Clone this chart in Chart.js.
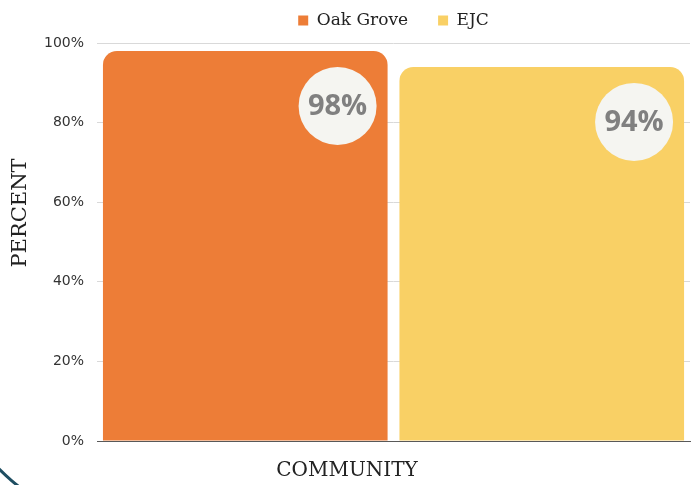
<!DOCTYPE html>
<html>
<head>
<meta charset="utf-8">
<script src="https://cdn.jsdelivr.net/npm/chart.js@4/dist/chart.umd.min.js"></script>
<style>
  html, body { margin: 0; padding: 0; background: #fff; }
  #wrap { width: 694px; height: 485px; }
</style>
</head>
<body>
<div id="wrap"><canvas id="communityChart"></canvas></div>
<script>
// Data
const categories = ["Community"];
const seriesNames = ["Oak Grove", "EJC"];
const oakGroveValues = [98];
const ejcValues = [94];
const yTicks = [0, 20, 40, 60, 80, 100];

const barColors = ["#ed7d37", "#f9d065"];

// Draws the round "98%" badges near the top right of each bar
const badgePlugin = {
  id: "badges",
  afterDatasetsDraw(chart) {
    const ctx = chart.ctx;
    chart.data.datasets.forEach((ds, i) => {
      const meta = chart.getDatasetMeta(i);
      meta.data.forEach((bar, j) => {
        const cx = bar.x + bar.width / 2 - 50;
        const cy = bar.y + 55;
        ctx.save();
        ctx.beginPath();
        ctx.arc(cx, cy, 39, 0, Math.PI * 2);
        ctx.fillStyle = "#f5f5f1";
        ctx.fill();
        ctx.fillStyle = "#808080";
        ctx.font = "bold 29px 'Open Sans'";
        ctx.textAlign = "center";
        ctx.textBaseline = "middle";
        ctx.fillText(ds.data[j] + "%", cx, cy + 1);
        ctx.restore();
      });
    });
  }
};

// Axis titles are centred on the page rather than the plot, so they are drawn here
const axisTitles = {
  id: "axisTitles",
  afterDraw(chart) {
    const ctx = chart.ctx;
    ctx.save();
    ctx.fillStyle = "#222";
    ctx.textAlign = "center";
    ctx.textBaseline = "middle";
    ctx.font = "20px 'DejaVu Serif'";
    ctx.fillText("COMMUNITY", 347, 471);
    ctx.translate(21, 213);
    ctx.rotate(-Math.PI / 2);
    ctx.font = "21px 'DejaVu Serif'";
    ctx.fillText("PERCENT", 0, 0);
    ctx.restore();
  }
};

// a little more room under the legend than Chart.js gives
const legendGap = {
  id: "legendGap",
  beforeLayout(chart) {
    const legend = chart.legend;
    if (legend && !legend._gapDone) {
      const fit = legend.fit;
      legend.fit = function () {
        fit.call(this);
        this.height += 4;
      };
      legend._gapDone = true;
    }
  }
};

// Decorative arc in the lower left corner
const cornerArc = {
  id: "cornerArc",
  afterDraw(chart) {
    const ctx = chart.ctx;
    ctx.save();
    ctx.beginPath();
    ctx.arc(145, 325, 205, Math.PI * 0.6, Math.PI * 0.85);
    ctx.strokeStyle = "#1f4e62";
    ctx.lineWidth = 3;
    ctx.stroke();
    ctx.restore();
  }
};

const ctx = document.getElementById("communityChart").getContext("2d");
const communityChart = new Chart(ctx, {
  type: "bar",
  data: {
    labels: categories,
    datasets: [
      {
        label: seriesNames[0],
        data: oakGroveValues,
        backgroundColor: barColors[0],
        borderRadius: 14,
        categoryPercentage: 1,
        barPercentage: 0.96,
      },
      {
        label: seriesNames[1],
        data: ejcValues,
        backgroundColor: barColors[1],
        borderRadius: 14,
        categoryPercentage: 1,
        barPercentage: 0.96,
      },
    ],
  },
  options: {
    responsive: true,
    maintainAspectRatio: false,
    animation: false,
    layout: {
      padding: { left: 31, right: 4, top: -18, bottom: 36 },
    },
    plugins: {
      legend: {
        position: "top",
        fullSize: false,
        labels: {
          boxWidth: 10,
          boxHeight: 10,
          padding: 30,
          color: "#222",
          font: { family: "'DejaVu Serif'", size: 17 },
        },
      },
      tooltip: { enabled: false },
    },
    scales: {
      y: {
        min: 0,
        max: 100,
        afterBuildTicks(axis) {
          axis.ticks = yTicks.map((v) => ({ value: v }));
        },
        ticks: {
          padding: 13,
          color: "#333",
          font: { family: "'DejaVu Sans'", size: 14 },
          callback: (v) => v + "%",
        },
        grid: {
          color: "#d9d9d9",
          drawTicks: false,
        },
        border: { display: false },
      },
      x: {
        ticks: { display: false },
        grid: { display: false },
        border: { display: true, color: "#595959", width: 1 },
      },
    },
  },
  plugins: [legendGap, badgePlugin, axisTitles, cornerArc],
});
</script>
</body>
</html>
